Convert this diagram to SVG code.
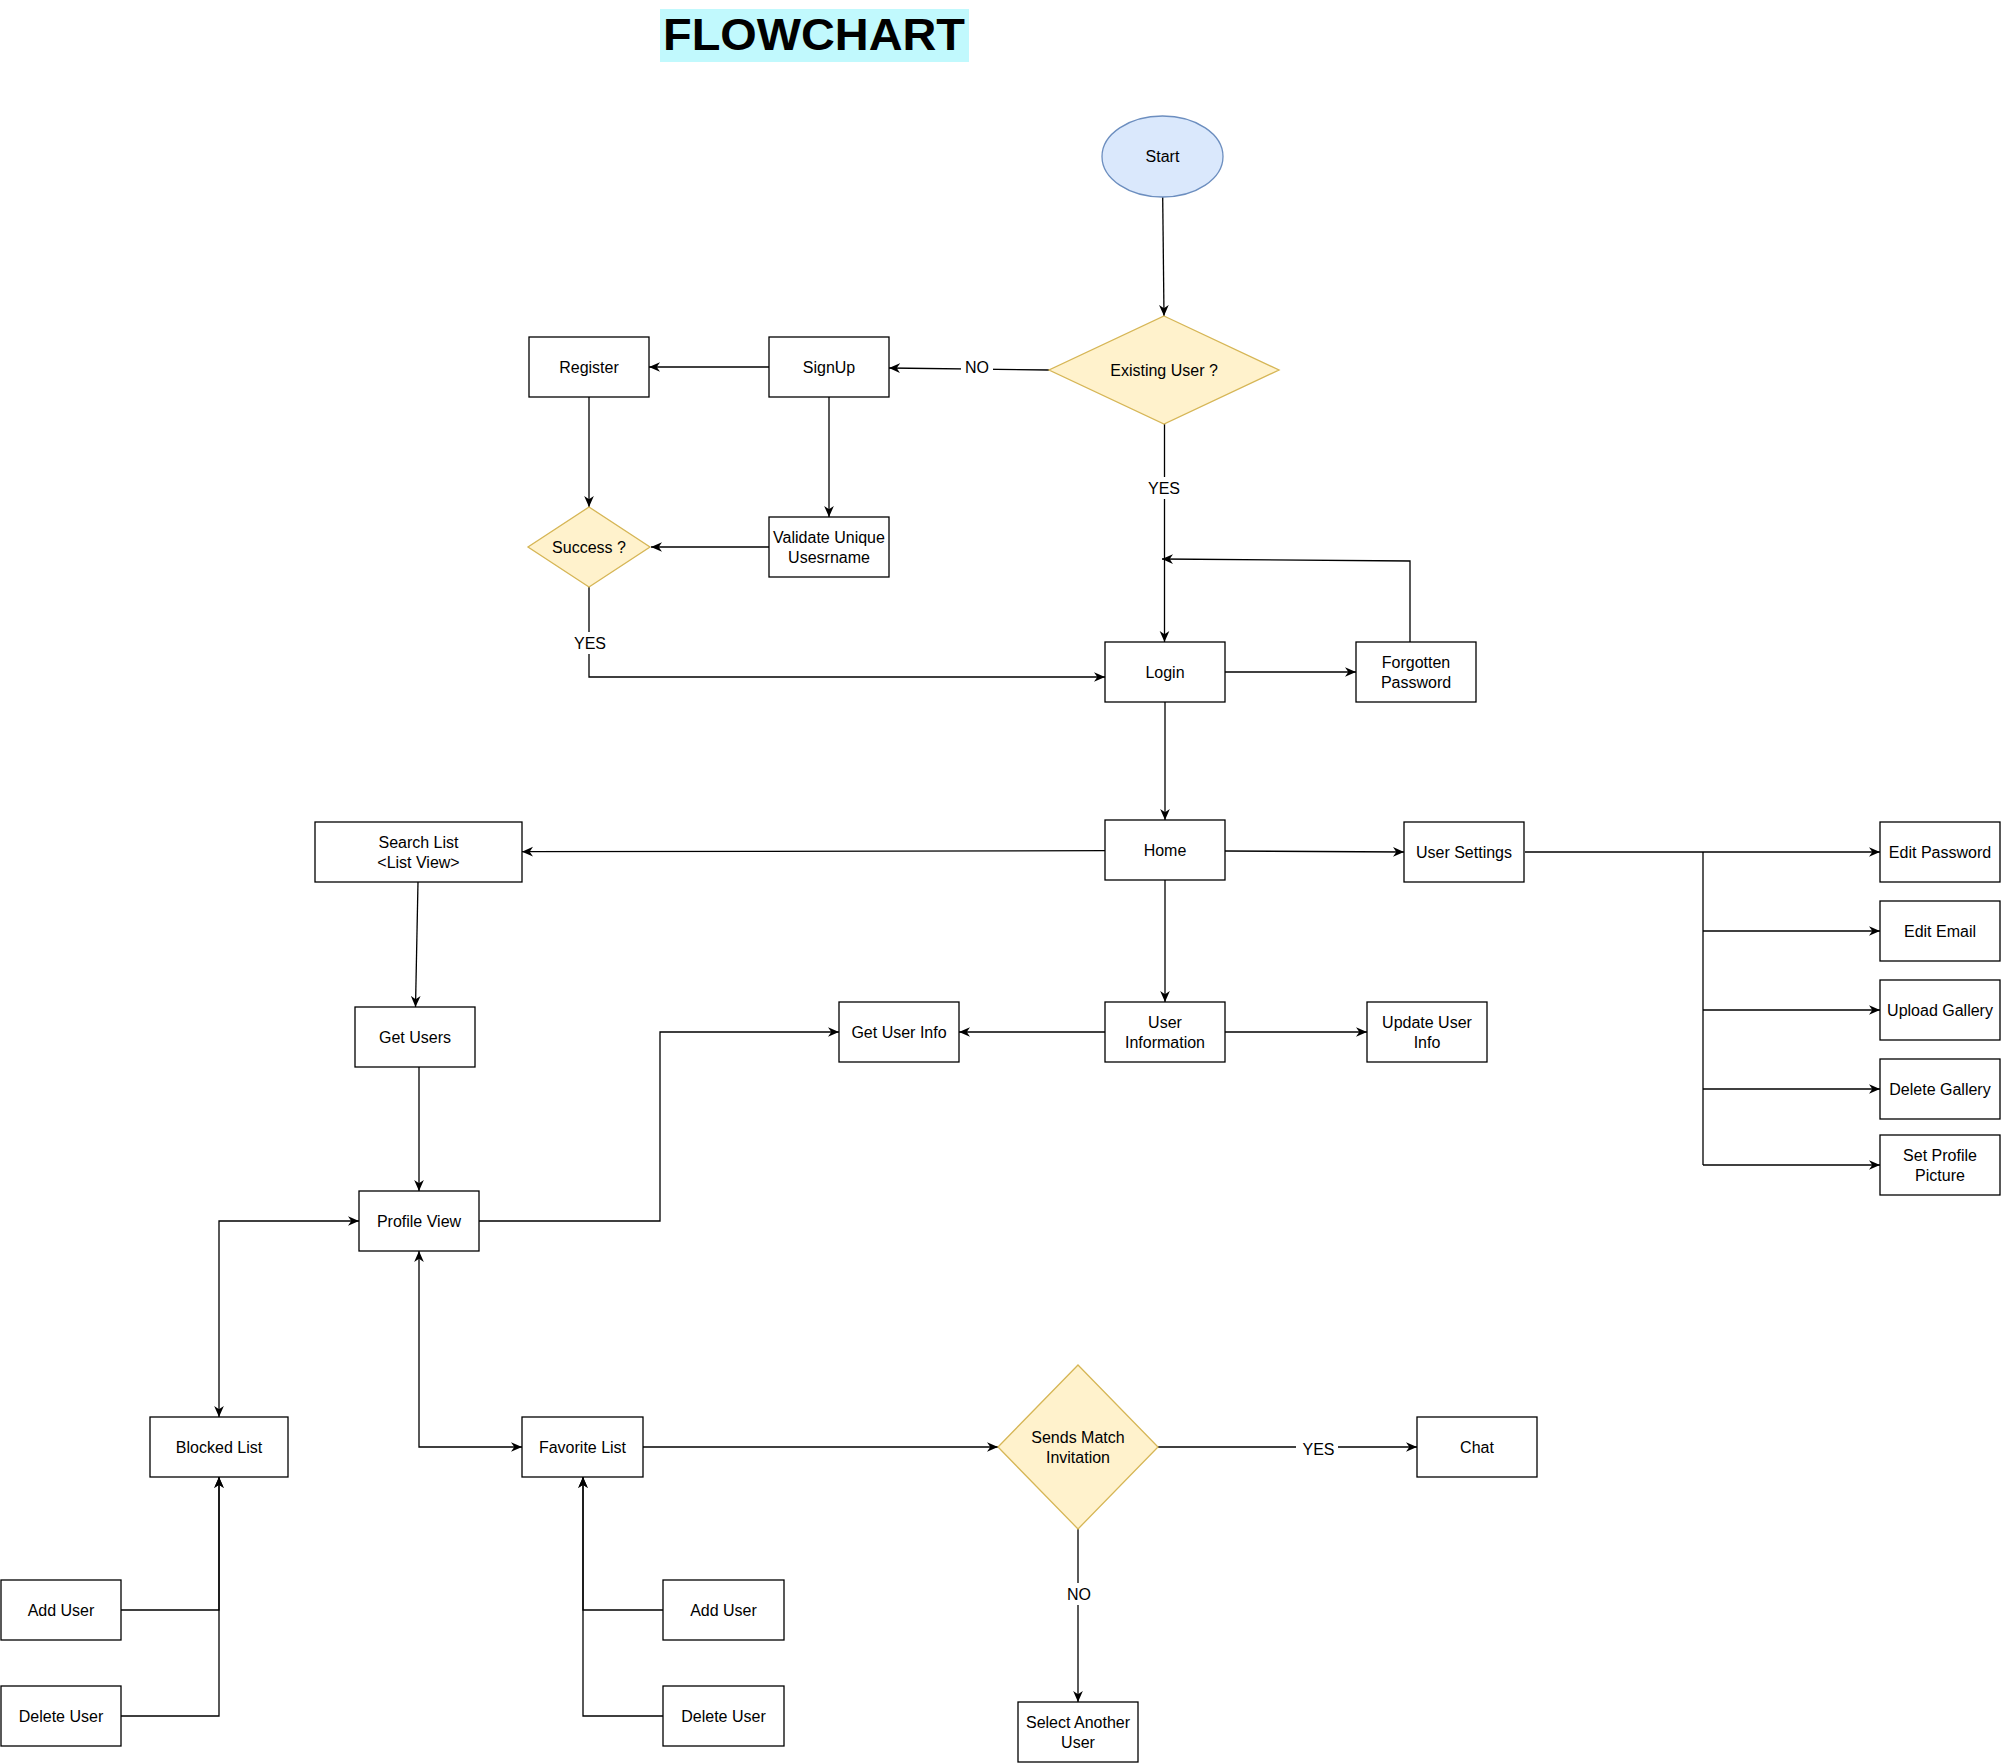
<svg xmlns="http://www.w3.org/2000/svg" width="2001" height="1763" viewBox="0 0 2001 1763">
<defs>
<marker id="arr" viewBox="0 0 10 10" refX="10" refY="5" markerWidth="11" markerHeight="11" markerUnits="userSpaceOnUse" orient="auto-start-reverse">
<path d="M0,0.6 L10,5 L0,9.4 L3,5 Z" fill="#000"/>
</marker>
<style>
.box{fill:#fff;stroke:#000;stroke-width:1.3}
.dec{fill:#fff2cc;stroke:#d6b656;stroke-width:1.3}
.t{font-family:"Liberation Sans",Arial,sans-serif;font-size:16px;fill:#000;text-anchor:middle}
.c{fill:none;stroke:#000;stroke-width:1.3}
.a{marker-end:url(#arr)}
.b{marker-start:url(#arr);marker-end:url(#arr)}
.lb{fill:#fff}
</style>
</defs>
<rect width="2001" height="1763" fill="#fff"/>
<g id="title">
<rect x="660" y="9" width="309" height="53" fill="#c1f9fd"/>
<text x="814" y="50" font-family="Liberation Sans, Arial, sans-serif" font-size="44" font-weight="bold" text-anchor="middle" textLength="302" lengthAdjust="spacingAndGlyphs">FLOWCHART</text>
</g>
<g id="connectors">
<path class="c a" d="M1162.7,197 L1164,316"/>
<path class="c a" d="M1049,370 L889,368"/>
<path class="c a" d="M769,367 L649,367"/>
<path class="c a" d="M829,397 L829,517"/>
<path class="c a" d="M589,397 L589,507"/>
<path class="c a" d="M769,547 L651,547"/>
<path class="c a" d="M1164.5,424 L1164.5,642"/>
<path class="c a" d="M589,587 L589,677 L1105,677"/>
<path class="c a" d="M1225,672 L1356,672"/>
<path class="c a" d="M1410,642 L1410,561 L1162,559"/>
<path class="c a" d="M1165,702 L1165,820"/>
<path class="c a" d="M1105,850.7 L522,851.7"/>
<path class="c a" d="M1225,851 L1404,852"/>
<path class="c a" d="M1165,880 L1165,1002"/>
<path class="c a" d="M1105,1032 L959,1032"/>
<path class="c a" d="M1225,1032 L1367,1032"/>
<path class="c a" d="M1525,852 L1880,852"/>
<path class="c" d="M1703,852 L1703,1165"/>
<path class="c a" d="M1703,931 L1880,931"/>
<path class="c a" d="M1703,1010 L1880,1010"/>
<path class="c a" d="M1703,1089 L1880,1089"/>
<path class="c a" d="M1703,1165 L1880,1165"/>
<path class="c a" d="M418,882 L415.5,1007"/>
<path class="c a" d="M419,1067 L419,1191"/>
<path class="c a" d="M479,1221 L660,1221 L660,1032 L839,1032"/>
<path class="c b" d="M219,1417 L219,1221 L359,1221"/>
<path class="c b" d="M419,1251 L419,1447 L522,1447"/>
<path class="c a" d="M643,1447 L998,1447"/>
<path class="c a" d="M1158,1447 L1417,1447"/>
<path class="c a" d="M1078,1529 L1078,1702"/>
<path class="c a" d="M121,1610 L219,1610 L219,1477"/>
<path class="c a" d="M121,1716 L219,1716 L219,1477"/>
<path class="c a" d="M663,1610 L583,1610 L583,1477"/>
<path class="c a" d="M663,1716 L583,1716 L583,1477"/>
<rect class="lb" x="961" y="356" width="32" height="22"/>
<text class="t" x="977" y="373">NO</text>
<rect class="lb" x="1142" y="477" width="44" height="22"/>
<text class="t" x="1164" y="494">YES</text>
<rect class="lb" x="568" y="632" width="44" height="22"/>
<text class="t" x="590" y="649">YES</text>
<rect class="lb" x="1296" y="1438" width="42" height="22"/>
<text class="t" x="1318.5" y="1455">YES</text>
<rect class="lb" x="1063" y="1583" width="32" height="22"/>
<text class="t" x="1079" y="1600">NO</text>
</g>
<g id="start"><ellipse cx="1162.5" cy="156.5" rx="60.5" ry="40.5" fill="#dae8fc" stroke="#6c8ebf" stroke-width="1.3"/><text class="t" x="1162.5" y="162">Start</text></g>
<g id="existing-user"><polygon class="dec" points="1164,316 1279,370 1164,424 1049,370"/><text class="t" x="1164" y="375.5">Existing User ?</text></g>
<g id="signup"><rect class="box" x="769" y="337" width="120" height="60"/><text class="t" x="829" y="372.5">SignUp</text></g>
<g id="register"><rect class="box" x="529" y="337" width="120" height="60"/><text class="t" x="589" y="372.5">Register</text></g>
<g id="validate"><rect class="box" x="769" y="517" width="120" height="60"/><text class="t" x="829" y="542.5">Validate Unique</text><text class="t" x="829" y="562.5">Usesrname</text></g>
<g id="success"><polygon class="dec" points="589,507 650,547 589,587 528,547"/><text class="t" x="589" y="552.5">Success ?</text></g>
<g id="login"><rect class="box" x="1105" y="642" width="120" height="60"/><text class="t" x="1165" y="677.5">Login</text></g>
<g id="forgotten-password"><rect class="box" x="1356" y="642" width="120" height="60"/><text class="t" x="1416" y="668">Forgotten</text><text class="t" x="1416" y="688">Password</text></g>
<g id="home"><rect class="box" x="1105" y="820" width="120" height="60"/><text class="t" x="1165" y="855.5">Home</text></g>
<g id="search-list"><rect class="box" x="315" y="822" width="207" height="60"/><text class="t" x="418.5" y="848">Search List</text><text class="t" x="418.5" y="868">&lt;List View&gt;</text></g>
<g id="user-settings"><rect class="box" x="1404" y="822" width="120" height="60"/><text class="t" x="1464" y="857.5">User Settings</text></g>
<g id="edit-password"><rect class="box" x="1880" y="822" width="120" height="60"/><text class="t" x="1940" y="857.5">Edit Password</text></g>
<g id="edit-email"><rect class="box" x="1880" y="901" width="120" height="60"/><text class="t" x="1940" y="936.5">Edit Email</text></g>
<g id="upload-gallery"><rect class="box" x="1880" y="980" width="120" height="60"/><text class="t" x="1940" y="1015.5">Upload Gallery</text></g>
<g id="delete-gallery"><rect class="box" x="1880" y="1059" width="120" height="60"/><text class="t" x="1940" y="1094.5">Delete Gallery</text></g>
<g id="set-profile-picture"><rect class="box" x="1880" y="1135" width="120" height="60"/><text class="t" x="1940" y="1160.5">Set Profile</text><text class="t" x="1940" y="1180.5">Picture</text></g>
<g id="get-users"><rect class="box" x="355" y="1007" width="120" height="60"/><text class="t" x="415" y="1042.5">Get Users</text></g>
<g id="get-user-info"><rect class="box" x="839" y="1002" width="120" height="60"/><text class="t" x="899" y="1037.5">Get User Info</text></g>
<g id="user-information"><rect class="box" x="1105" y="1002" width="120" height="60"/><text class="t" x="1165" y="1027.5">User</text><text class="t" x="1165" y="1047.5">Information</text></g>
<g id="update-user-info"><rect class="box" x="1367" y="1002" width="120" height="60"/><text class="t" x="1427" y="1027.5">Update User</text><text class="t" x="1427" y="1047.5">Info</text></g>
<g id="profile-view"><rect class="box" x="359" y="1191" width="120" height="60"/><text class="t" x="419" y="1226.5">Profile View</text></g>
<g id="blocked-list"><rect class="box" x="150" y="1417" width="138" height="60"/><text class="t" x="219" y="1452.5">Blocked List</text></g>
<g id="favorite-list"><rect class="box" x="522" y="1417" width="121" height="60"/><text class="t" x="582.5" y="1452.5">Favorite List</text></g>
<g id="sends-match"><polygon class="dec" points="1078,1365 1158,1447 1078,1529 998,1447"/><text class="t" x="1078" y="1442.5">Sends Match</text><text class="t" x="1078" y="1462.5">Invitation</text></g>
<g id="chat"><rect class="box" x="1417" y="1417" width="120" height="60"/><text class="t" x="1477" y="1452.5">Chat</text></g>
<g id="select-another-user"><rect class="box" x="1018" y="1702" width="120" height="60"/><text class="t" x="1078" y="1727.5">Select Another</text><text class="t" x="1078" y="1747.5">User</text></g>
<g id="add-user-blocked"><rect class="box" x="1" y="1580" width="120" height="60"/><text class="t" x="61" y="1615.5">Add User</text></g>
<g id="delete-user-blocked"><rect class="box" x="1" y="1686" width="120" height="60"/><text class="t" x="61" y="1721.5">Delete User</text></g>
<g id="add-user-favorite"><rect class="box" x="663" y="1580" width="121" height="60"/><text class="t" x="723.5" y="1615.5">Add User</text></g>
<g id="delete-user-favorite"><rect class="box" x="663" y="1686" width="121" height="60"/><text class="t" x="723.5" y="1721.5">Delete User</text></g>
</svg>
